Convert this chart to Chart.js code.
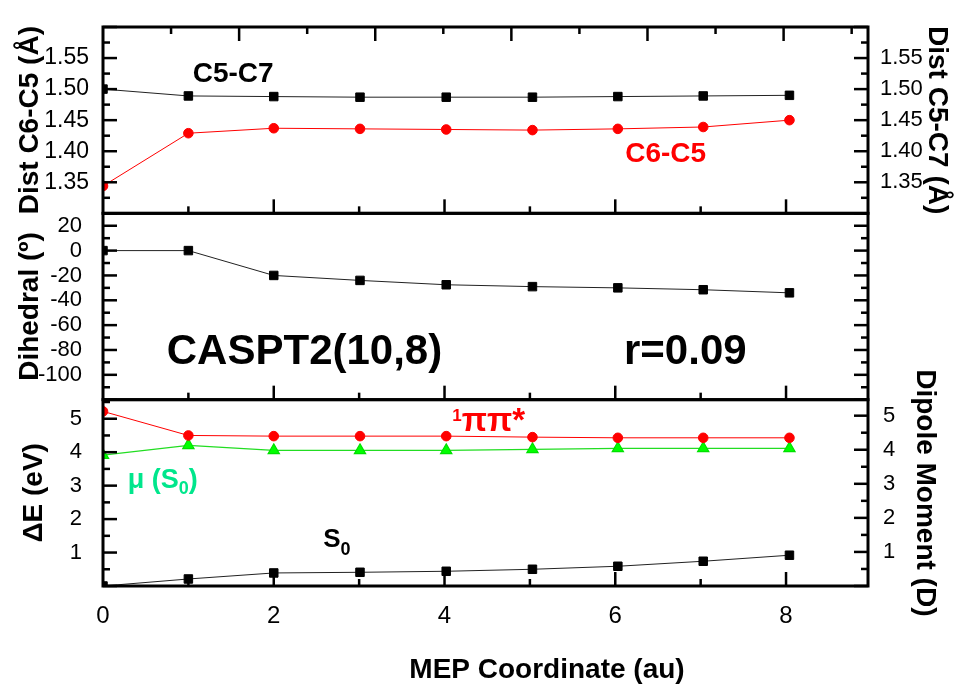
<!DOCTYPE html>
<html>
<head>
<meta charset="utf-8">
<title>MEP CASPT2(10,8)</title>
<script src="https://cdn.jsdelivr.net/npm/chart.js@4.4.1/dist/chart.umd.min.js"></script>
<style>
  html, body { margin: 0; padding: 0; background: #fff; }
</style>
</head>
<body>
<canvas id="mep" width="956" height="684"></canvas>
<script>
// MEP coordinate (au) of each computed point
const mepCoord = [0, 1.0, 2.0, 3.01, 4.02, 5.03, 6.03, 7.03, 8.04];

// top panel - bond distances (Å)
const distC5C7 = [1.500, 1.489, 1.488, 1.487, 1.487, 1.487, 1.488, 1.489, 1.490];
const distC6C5 = [1.344, 1.429, 1.437, 1.436, 1.435, 1.434, 1.436, 1.439, 1.450];

// middle panel - dihedral (deg)
const dihedral = [0, 0, -20, -24, -27.5, -29, -30, -31.5, -34];

// bottom panel - energies (eV) and dipole (D)
const energyPiPi = [5.22, 4.50, 4.48, 4.48, 4.48, 4.45, 4.43, 4.43, 4.43];
const energyS0 = [0, 0.21, 0.39, 0.41, 0.44, 0.50, 0.59, 0.74, 0.92];
const dipoleS0 = [3.84, 4.13, 3.98, 3.98, 3.98, 4.01, 4.04, 4.04, 4.04];

// tick labels
const xTickLabels = [0, 2, 4, 6, 8];
const distTickLabels = [1.35, 1.40, 1.45, 1.50, 1.55];
const dihedralTickLabels = [20, 0, -20, -40, -60, -80, -100];
const energyTickLabels = [1, 2, 3, 4, 5];
const dipoleTickLabels = [1, 2, 3, 4, 5];

const RED = '#ff0000';
const FONT = "'Liberation Sans', Arial, Helvetica, sans-serif";

const pts = ys => ys.map((v, i) => ({x: mepCoord[i], y: v}));
const fixedTicks = list => s => { s.ticks = list.map(v => ({value: v})); };

// inward tick marks, per axis
const panelTicks = [
  {id: 'y1', side: 'left', minor: 0.025, major: 0.05},
  {id: 'r1', side: 'right', minor: 0.025, major: 0.05},
  {id: 'y2', side: 'left', minor: 10, major: 20},
  {id: 'r2', side: 'right', minor: 10, major: 20},
  {id: 'y3', side: 'left', minor: 0.5, major: 1},
  {id: 'r3', side: 'right', minor: 0.5, major: 1}
];

// text labels placed in data coordinates
const notes = [
  {axis: 'y1', x: 1.525, y: 1.5113, align: 'center', color: '#000', parts: [{t: 'C5-C7', size: 28}]},
  {axis: 'y1', x: 6.59, y: 1.3823, align: 'center', color: RED, parts: [{t: 'C6-C5', size: 28}]},
  {axis: 'y2', x: 2.36, y: -91.6, align: 'center', color: '#000', parts: [{t: 'CASPT2(10,8)', size: 42}]},
  {axis: 'y2', x: 6.82, y: -91.6, align: 'center', color: '#000', parts: [{t: 'r=0.09', size: 42}]},
  {axis: 'y3', x: 4.09, y: 4.62, align: 'left', color: RED, parts: [{t: '1', size: 17, dy: -10}, {t: 'ππ*', size: 33}]},
  {axis: 'y3', x: 0.29, y: 2.93, align: 'left', color: '#00e68c', parts: [{t: 'μ (S', size: 27}, {t: '0', size: 18, dy: 6}, {t: ')', size: 27}]},
  {axis: 'y3', x: 2.58, y: 1.16, align: 'left', color: '#000', parts: [{t: 'S', size: 26}, {t: '0', size: 18, dy: 8}]}
];

const frameTicks = {
  id: 'frameTicks',
  afterDatasetsDraw(chart) {
    const {ctx, chartArea} = chart;
    const L = chartArea.left, R = chartArea.right;
    const xs = chart.scales.x, xt = chart.scales.xt;
    const line = (x1, y1, x2, y2) => {
      ctx.beginPath(); ctx.moveTo(x1, y1); ctx.lineTo(x2, y2); ctx.stroke();
    };
    ctx.save();
    ctx.strokeStyle = '#000';
    ctx.lineWidth = 2.5;

    panelTicks.forEach(p => {
      const s = chart.scales[p.id];
      const n = Math.floor((s.max - s.min) / p.minor + 1e-6);
      for (let i = 0; i <= n; i++) {
        const v = s.min + i * p.minor;
        const isMajor = Math.abs(v / p.major - Math.round(v / p.major)) < 1e-6;
        const len = isMajor ? 14 : 7;
        const py = s.getPixelForValue(v);
        if (p.side === 'left') line(L, py, L + len, py);
        else line(R, py, R - len, py);
      }
    });

    // x ticks on the bottom edge of every panel
    ['y1', 'y2', 'y3'].forEach(id => {
      const b = chart.scales[id].bottom;
      for (let v = 1; v <= 8; v++) {
        const px = xs.getPixelForValue(v);
        line(px, b, px, b - (v % 2 ? 7 : 14));
      }
    });

    // upper edge of the top panel uses its own spacing
    const t = chart.scales.y1.top;
    for (let v = 1; v <= 11; v++) {
      const px = xt.getPixelForValue(v);
      line(px, t, px, t + (v % 2 ? 7 : 14));
    }

    ctx.lineWidth = 3;
    ['y1', 'y2', 'y3'].forEach(id => {
      const s = chart.scales[id];
      ctx.strokeRect(L, s.top, R - L, s.bottom - s.top);
    });
    ctx.restore();
  },
  afterDraw(chart) {
    const {ctx} = chart;
    const xs = chart.scales.x;
    ctx.save();
    ctx.textBaseline = 'alphabetic';
    ctx.textAlign = 'left';
    notes.forEach(n => {
      const ys = chart.scales[n.axis];
      let px = xs.getPixelForValue(n.x);
      const py = ys.getPixelForValue(n.y);
      const widths = n.parts.map(p => {
        ctx.font = 'bold ' + p.size + 'px ' + FONT;
        return ctx.measureText(p.t).width;
      });
      if (n.align === 'center') px -= widths.reduce((a, b) => a + b, 0) / 2;
      ctx.fillStyle = n.color;
      n.parts.forEach((p, i) => {
        ctx.font = 'bold ' + p.size + 'px ' + FONT;
        ctx.fillText(p.t, px, py + (p.dy || 0));
        px += widths[i];
      });
    });
    // x axis title
    ctx.font = 'bold 28px ' + FONT;
    ctx.fillStyle = '#000';
    ctx.textAlign = 'center';
    ctx.fillText('MEP Coordinate (au)', xs.getPixelForValue(5.2), xs.bottom - 6);
    ctx.restore();
  }
};

const tickFont = size => ({family: FONT, size: size});
const titleFont = {family: FONT, size: 28, weight: 'bold'};

function yAxis(o) {
  const left = o.position === 'left';
  return {
    type: 'linear',
    position: o.position,
    stack: left ? 'left' : 'right',
    weight: o.weight,
    min: o.min,
    max: o.max,
    grid: {display: false},
    border: {display: false},
    afterBuildTicks: o.labels ? fixedTicks(o.labels) : undefined,
    afterFit: s => { s.width = left ? 103 : 88; },
    ticks: {
      display: !!o.labels,
      autoSkip: false,
      padding: o.pad,
      color: '#000',
      font: tickFont(o.size || 22),
      callback: o.fmt || (v => v)
    },
    title: o.title ? {
      display: true,
      text: o.title,
      color: '#000',
      font: titleFont,
      padding: {top: o.tpad, bottom: 0}
    } : {display: false}
  };
}

new Chart(document.getElementById('mep'), {
  type: 'line',
  data: {
    datasets: [
      {
        label: 'C5-C7', data: pts(distC5C7), xAxisID: 'x', yAxisID: 'r1',
        borderColor: '#222', borderWidth: 1, pointStyle: 'rect', pointRadius: 6,
        pointBackgroundColor: '#000', pointBorderColor: '#000'
      },
      {
        label: 'C6-C5', data: pts(distC6C5), xAxisID: 'x', yAxisID: 'y1',
        borderColor: RED, borderWidth: 1, pointStyle: 'circle', pointRadius: 4.8,
        pointBackgroundColor: RED, pointBorderColor: RED
      },
      {
        label: 'Dihedral', data: pts(dihedral), xAxisID: 'x', yAxisID: 'y2',
        borderColor: '#222', borderWidth: 1, pointStyle: 'rect', pointRadius: 6,
        pointBackgroundColor: '#000', pointBorderColor: '#000'
      },
      {
        label: '1ππ*', data: pts(energyPiPi), xAxisID: 'x', yAxisID: 'y3',
        borderColor: RED, borderWidth: 1, pointStyle: 'circle', pointRadius: 4.8,
        pointBackgroundColor: RED, pointBorderColor: RED
      },
      {
        label: 'μ (S0)', data: pts(dipoleS0), xAxisID: 'x', yAxisID: 'r3',
        borderColor: '#22dd22', borderWidth: 1.2, pointStyle: 'triangle', pointRadius: 6.5,
        pointBackgroundColor: '#00ff00', pointBorderColor: '#00e000'
      },
      {
        label: 'S0', data: pts(energyS0), xAxisID: 'x', yAxisID: 'y3',
        borderColor: '#222', borderWidth: 1, pointStyle: 'rect', pointRadius: 6,
        pointBackgroundColor: '#000', pointBorderColor: '#000'
      }
    ]
  },
  options: {
    responsive: false,
    animation: false,
    layout: {padding: {top: 27, left: 0, right: 0, bottom: 0}},
    plugins: {legend: {display: false}, tooltip: {enabled: false}},
    scales: {
      x: {
        type: 'linear', position: 'bottom', min: 0, max: 8.96,
        grid: {display: false}, border: {display: false},
        afterBuildTicks: fixedTicks(xTickLabels),
        afterFit: s => { s.height = 98; },
        ticks: {autoSkip: false, maxRotation: 0, padding: 8, color: '#000', font: tickFont(24), callback: v => v}
      },
      xt: {type: 'linear', position: 'top', display: false, min: 0, max: 11.24},
      y1: yAxis({position: 'left', weight: 3, min: 1.30, max: 1.60, labels: distTickLabels, pad: 6, size: 23,
        fmt: v => v.toFixed(2), title: 'Dist C6-C5 (Å)', tpad: 13}),
      y2: yAxis({position: 'left', weight: 2, min: -120, max: 30, labels: dihedralTickLabels, pad: 13, size: 22,
        title: 'Dihedral (º)', tpad: 13}),
      y3: yAxis({position: 'left', weight: 1, min: 0, max: 5.57, labels: energyTickLabels, pad: 13, size: 22,
        title: 'ΔE (eV)', tpad: 17}),
      r1: yAxis({position: 'right', weight: 1, min: 1.30, max: 1.60, labels: distTickLabels, pad: 4, size: 22,
        fmt: v => v.toFixed(2), title: 'Dist C5-C7 (Å)', tpad: 2}),
      r2: yAxis({position: 'right', weight: 2, min: -120, max: 30}),
      r3: yAxis({position: 'right', weight: 3, min: 0, max: 5.47, labels: dipoleTickLabels, pad: 7, size: 22,
        title: 'Dipole Moment (D)', tpad: 14})
    }
  },
  plugins: [frameTicks]
});
</script>
</body>
</html>
